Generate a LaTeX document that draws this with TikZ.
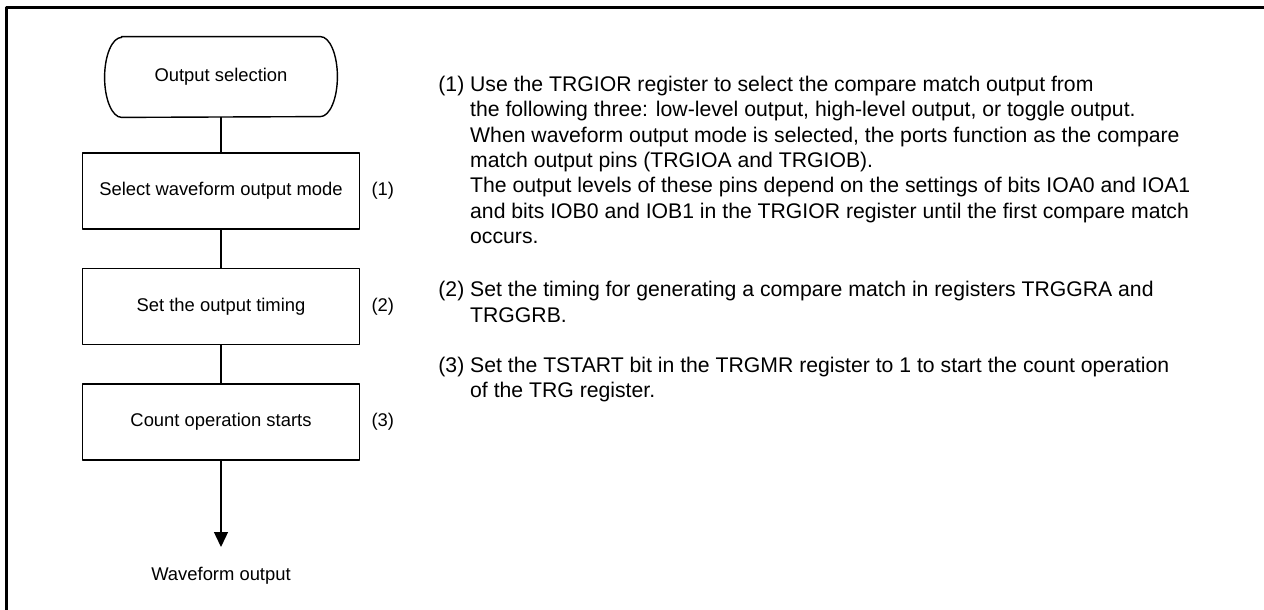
\documentclass[tikz,border=0pt]{standalone}
\usepackage{fontspec}
\setmainfont{Liberation Sans}
\usetikzlibrary{positioning,arrows.meta}
\tikzset{
    box/.style={
        draw, line width=0.7pt, minimum width=138.5pt, minimum height=38pt,
        inner sep=0pt, font=\fontsize{9.2}{11}\selectfont
    },
    term/.style={
        minimum width=116pt, minimum height=40pt,
        inner sep=0pt, font=\fontsize{9.2}{11}\selectfont
    },
    num/.style={
        inner sep=0pt, font=\fontsize{9.2}{11}\selectfont
    },
    note/.style={
        anchor=base west, inner sep=0pt, font=\fontsize{10.6}{12.65}\selectfont
    },
    flow/.style={line width=0.7pt}
}

\begin{document}
\begin{tikzpicture}[x=0.5pt,y=-0.5pt,line join=round]

    \useasboundingbox (0,0) rectangle (1264,610);

% frame (left and top edges)
    \draw[line width=1.5pt] (6.5,610) |- (1264,8);

% --- flow ---
    \node[term] (sel) at (221,77) {Output selection};
    \draw[line width=0.7pt]
        ([xshift=8.5pt]sel.north west) -- ([xshift=-8.5pt]sel.north east)
        arc[start angle=90, end angle=-90, x radius=8.5pt, y radius=20pt]
        -- ([xshift=8.5pt]sel.south west)
        arc[start angle=270, end angle=90, x radius=8.5pt, y radius=20pt]
        -- cycle;

    \node[box, below=17.5pt of sel] (b1) {Select waveform output mode};
    \node[box, below=19pt of b1] (b2) {Set the output timing};
    \node[box, below=19pt of b2] (b3) {Count operation starts};

    \coordinate (tip) at (221,547);
    \node[num, below=10pt of tip] (wout) {Waveform output};

    \draw[flow] (sel) -- (b1);
    \draw[flow] (b1) -- (b2);
    \draw[flow] (b2) -- (b3);
    \draw[flow, -{Triangle[length=7.5pt,width=7pt]}] (b3) -- (tip);

% step numbers
    \node[num, right=5.5pt of b1] (n1) {(1)};
    \node[num, right=5.5pt of b2] (n2) {(2)};
    \node[num, right=5.5pt of b3] (n3) {(3)};

% --- notes ---
    \node[note] (p1) at (438,91.5) {\begin{tabular}[t]{@{}l@{\ }l@{}}
        (1) & Use the TRGIOR register to select the compare match output from\\
            & the following three: low-level output, high-level output, or toggle output.\\
            & When waveform output mode is selected, the ports function as the compare\\
            & match output pins (TRGIOA and TRGIOB).\\
            & The output levels of these pins depend on the settings of bits IOA0 and IOA1\\
            & and bits IOB0 and IOB1 in the TRGIOR register until the first compare match\\
            & occurs.
    \end{tabular}};

    \node[note] (p2) at (438,296.7) {\begin{tabular}[t]{@{}l@{\ }l@{}}
        (2) & Set the timing for generating a compare match in registers TRGGRA and\\
            & TRGGRB.
    \end{tabular}};

    \node[note] (p3) at (438,372.5) {\begin{tabular}[t]{@{}l@{\ }l@{}}
        (3) & Set the TSTART bit in the TRGMR register to 1 to start the count operation\\
            & of the TRG register.
    \end{tabular}};

\end{tikzpicture}
\end{document}
